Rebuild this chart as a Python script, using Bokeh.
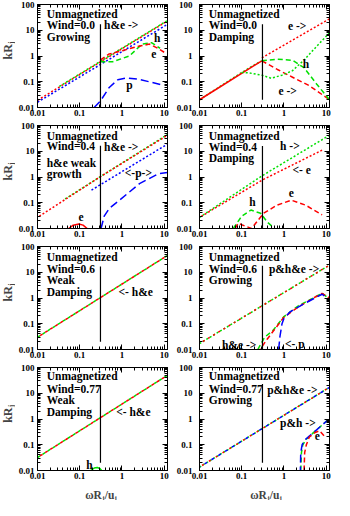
import math
from bokeh.plotting import figure
from bokeh.models import FixedTicker, LogAxis, Label, CustomJSTickFormatter, CustomLabelingPolicy
from bokeh.layouts import column, row
from bokeh.embed import file_html
from bokeh.resources import INLINE

FONT = "Liberation Serif"
RED, GREEN, BLUE = "#ff0000", "#00e000", "#0000ff"

X_TICKS = [0.01, 0.1, 1, 10]
Y_TICKS = [0.01, 0.1, 1, 10, 100]
X_MINOR = [m * d for d in [0.01, 0.1, 1, 10] for m in range(2, 10)]
Y_MINOR = [m * d for d in [0.01, 0.1, 1, 10] for m in range(2, 10)]

X_RANGE = (0.01, 12)
Y_RANGE = (0.01, 100)

V_X = 0.31                       # omega R_j / u_j of the vertical marker
V_BOT = [0.01, 0.02, 0.01, 0.01, 0.02, 0.01, 0.02, 0.02]
V_TOP = [17, 17, 16.5, 16, 16.6, 18, 21, 23]

TITLES = [
    ["Unmagnetized", "Wind=0.0", "Growing"],
    ["Unmagnetized", "Wind=0.0", "Damping"],
    ["Unmagnetized", "Wind=0.4", "h&e weak", "growth"],
    ["Unmagnetized", "Wind=0.4", "Damping"],
    ["Unmagnetized", "Wind=0.6", "Weak", "Damping"],
    ["Unmagnetized", "Wind=0.6", "Growing"],
    ["Unmagnetized", "Wind=0.77", "Weak", "Damping"],
    ["Unmagnetized", "Wind=0.77", "Growing"],
]
TITLE_Y = [
    [41, 15.3, 5.7],
    [41, 15.3, 5.7],
    [37.7, 16.5, 3.56, 1.35],
    [37.7, 14.5, 5.3],
    [40.6, 13.4, 5.0, 1.73],
    [40.6, 13.4, 5.0],
    [48.6, 14.6, 5.4, 1.93],
    [48.6, 14.6, 5.4],
]
TITLE_X = 0.0165

# ---- panel 1 : Wind=0.0 growing
p1_red_top_x = [0.01, 12];  p1_red_top_y = [0.019, 23]
p1_grn_top_x = [0.03, 12];  p1_grn_top_y = [0.06, 24]
p1_blu_top_x = [0.01, 12];  p1_blu_top_y = [0.016, 17]
p1_h_x = [0.31, 0.6, 1.5, 3, 5, 8];        p1_h_y = [0.6, 0.6, 1.0, 2.9, 3.3, 2.0]
p1_e_x = [0.31, 0.5, 1, 2.5, 4.5, 7, 10];  p1_e_y = [0.7, 1.2, 1.6, 2.4, 2.9, 2.0, 1.4]
p1_p_x = [0.22, 0.31, 0.5, 0.8, 1.3, 2.5, 5, 9]
p1_p_y = [0.01, 0.018, 0.06, 0.12, 0.14, 0.125, 0.095, 0.075]

# ---- panel 2 : Wind=0.0 damping
p2_red_lo_x = [0.01, 0.3];  p2_red_lo_y = [0.02, 0.65]
p2_red_dn_x = [0.3, 0.7, 1.6, 4, 12];  p2_red_dn_y = [0.65, 0.3, 0.15, 0.07, 0.02]
p2_red_up_x = [0.3, 12];  p2_red_up_y = [0.85, 28]
p2_grn_lo_x = [0.01, 0.1, 0.2, 0.3];  p2_grn_lo_y = [0.02, 0.23, 0.45, 0.65]
p2_grn_hump_x = [0.3, 0.7, 1.6, 3, 6, 12];  p2_grn_hump_y = [0.65, 0.75, 0.68, 0.35, 0.08, 0.02]
p2_grn_val_x = [0.1, 0.15, 0.3, 0.5, 0.9, 1.6, 3, 6, 12]
p2_grn_val_y = [0.23, 0.22, 0.18, 0.137, 0.18, 0.27, 0.7, 2.4, 8]

# ---- panel 3 : Wind=0.4 weak growth
p3_red_top_x = [0.01, 0.3, 12];  p3_red_top_y = [0.027, 1.0, 42]
p3_grn_top_x = [0.045, 0.3, 12];  p3_grn_top_y = [0.14, 1.0, 45]
p3_blu_top_x = [0.19, 12];  p3_blu_top_y = [0.31, 19]
p3_p_x = [0.32, 0.38, 0.5, 0.9, 2.6, 7.4, 12];  p3_p_y = [0.01, 0.03, 0.06, 0.13, 0.55, 1.35, 1.5]
p3_e_x = [0.055, 0.07, 0.095, 0.12, 0.15];  p3_e_y = [0.01, 0.0135, 0.015, 0.0135, 0.01]

# ---- panel 4 : Wind=0.4 damping
p4_grn_top_x = [0.01, 0.3, 12];  p4_grn_top_y = [0.027, 1.1, 42]
p4_red_top_x = [0.01, 0.3, 8];  p4_red_top_y = [0.027, 0.75, 11]
p4_h_x = [0.063, 0.1, 0.165, 0.28, 0.4, 0.6];  p4_h_y = [0.01, 0.03, 0.052, 0.039, 0.018, 0.01]
p4_e_x = [0.07, 0.082, 0.1, 0.17, 0.33, 0.68, 1.5, 3.3, 8]
p4_e_y = [0.01, 0.016, 0.014, 0.01, 0.039, 0.08, 0.126, 0.08, 0.034]

# ---- panel 5 : Wind=0.6 weak damping
p5_x = [0.01, 12];  p5_red_y = [0.03, 45];  p5_grn_y = [0.03, 45]

# ---- panel 6 : Wind=0.6 growing
p6_top_x = [0.01, 12];  p6_top_y = [0.017, 19]
p6_red_x = [0.27, 0.4, 0.55, 1, 2.2, 5, 8, 12];  p6_red_y = [0.01, 0.025, 0.05, 0.18, 0.45, 1.0, 1.5, 1.0]
p6_grn_x = [0.24, 0.35, 0.55, 1, 2.2, 5, 8, 12];  p6_grn_y = [0.01, 0.03, 0.055, 0.19, 0.5, 1.0, 1.55, 0.9]
p6_blu_x = [0.75, 0.8, 0.9, 1.0, 1.4, 3, 8, 12];  p6_blu_y = [0.01, 0.03, 0.1, 0.16, 0.29, 0.6, 1.4, 0.85]

# ---- panel 7 : Wind=0.77 weak damping
p7_x = [0.01, 12];  p7_red_y = [0.032, 50];  p7_grn_y = [0.032, 50]
p7_h_x = [0.18, 0.22, 0.26, 0.3, 0.33];  p7_h_y = [0.01, 0.0125, 0.013, 0.012, 0.01]

# ---- panel 8 : Wind=0.77 growing
p8_top_x = [0.01, 12];  p8_top_y = [0.0136, 17]
p8_blu_x = [2.45, 2.5, 2.7, 3.2, 5.4, 10, 12];  p8_blu_y = [0.01, 0.05, 0.1, 0.16, 0.33, 0.8, 0.95]
p8_grn_x = [2.5, 2.6, 2.8, 3.3, 5.4, 10, 12];  p8_grn_y = [0.01, 0.05, 0.1, 0.157, 0.33, 0.8, 0.95]
p8_e_x = [3.0, 3.1, 3.4, 4, 5.5, 7, 9];  p8_e_y = [0.01, 0.05, 0.1, 0.2, 0.3, 0.35, 0.22]

DOT, DASH, LDASH = "2 2", "5 3", "8 4"

# (x, y, colour, dash, dash offset)
PANEL_LINES = [
    [(p1_red_top_x, p1_red_top_y, RED, DOT, 0), (p1_grn_top_x, p1_grn_top_y, GREEN, DOT, 2),
     (p1_blu_top_x, p1_blu_top_y, BLUE, DOT, 0), (p1_h_x, p1_h_y, GREEN, DASH, 0),
     (p1_e_x, p1_e_y, RED, DASH, 0), (p1_p_x, p1_p_y, BLUE, LDASH, 0)],
    [(p2_grn_lo_x, p2_grn_lo_y, GREEN, DOT, 0), (p2_red_lo_x, p2_red_lo_y, RED, "solid", 0),
     (p2_red_dn_x, p2_red_dn_y, RED, DASH, 0), (p2_red_up_x, p2_red_up_y, RED, DOT, 0),
     (p2_grn_hump_x, p2_grn_hump_y, GREEN, DASH, 0), (p2_grn_val_x, p2_grn_val_y, GREEN, DOT, 0)],
    [(p3_grn_top_x, p3_grn_top_y, GREEN, DOT, 0), (p3_red_top_x, p3_red_top_y, RED, DOT, 2),
     (p3_blu_top_x, p3_blu_top_y, BLUE, DOT, 0), (p3_p_x, p3_p_y, BLUE, LDASH, 0),
     (p3_e_x, p3_e_y, RED, "solid", 0)],
    [(p4_grn_top_x, p4_grn_top_y, GREEN, DOT, 0), (p4_red_top_x, p4_red_top_y, RED, DOT, 2),
     (p4_h_x, p4_h_y, GREEN, DASH, 0), (p4_e_x, p4_e_y, RED, DASH, 0)],
    [(p5_x, p5_grn_y, GREEN, "3 3", 0), (p5_x, p5_red_y, RED, "3 3", 3)],
    [(p6_top_x, p6_top_y, GREEN, DOT, 0), (p6_top_x, p6_top_y, RED, "2 4", 2),
     (p6_grn_x, p6_grn_y, GREEN, DASH, 0), (p6_red_x, p6_red_y, RED, DASH, 4),
     (p6_blu_x, p6_blu_y, BLUE, LDASH, 0)],
    [(p7_x, p7_grn_y, GREEN, "3 3", 0), (p7_x, p7_red_y, RED, "3 3", 3),
     (p7_h_x, p7_h_y, GREEN, "solid", 0)],
    [(p8_top_x, p8_top_y, GREEN, DOT, 0), (p8_top_x, p8_top_y, BLUE, "3 5", 2),
     (p8_top_x, p8_top_y, RED, "2 6", 5),
     (p8_grn_x, p8_grn_y, GREEN, DASH, 0), (p8_blu_x, p8_blu_y, BLUE, LDASH, 4),
     (p8_e_x, p8_e_y, RED, DASH, 0)],
]

# annotation texts: (x, y, text, align)
PANEL_NOTES = [
    [(0.376, 15.7, "h&e ->", "left"), (6.8, 5.2, "h", "center"), (5.7, 1.17, "e", "center"),
     (1.5, 0.076, "p", "center")],
    [(1.25, 15, "e ->", "left"), (3.3, 0.48, "h", "center"), (0.74, 0.045, "e ->", "left")],
    [(0.376, 14.2, "h&e ->", "left"), (1.17, 1.43, "<-p->", "left"), (0.107, 0.029, "e", "center")],
    [(0.81, 16.5, "h ->", "left"), (1.6, 1.8, "<- e", "left"), (0.18, 0.11, "h", "center"),
     (1.5, 0.23, "e", "center")],
    [(0.83, 1.73, "<- h&e", "left")],
    [(0.44, 13.4, "p&h&e ->", "left"), (0.034, 0.0145, "h&e ->", "left"), (1.06, 0.0157, "<- p", "left")],
    [(0.73, 1.8, "<- h&e", "left"), (0.17, 0.017, "h", "center")],
    [(0.4, 13.3, "p&h&e ->", "left"), (0.81, 0.71, "p&h ->", "left"), (6.2, 0.21, "e", "center")],
]

fmt = CustomJSTickFormatter(code="return String(tick);")

# layout (pixels)
YLAB_W = 15
LEFT_B = [19, 27]
RIGHT_B = [4, 1]
FRAME_W = [134, 134]
Y_STANDOFF = [3, 7]
FRAME_H = 103
TOP_B = 4
BOT_B = [14, 14, 14, 13]
XLAB_H = 17


def style_axis(ax, ticks, minor, show):
    ax.ticker = FixedTicker(ticks=ticks, minor_ticks=minor)
    ax.major_tick_in = 5
    ax.major_tick_out = 0
    ax.minor_tick_in = 3
    ax.minor_tick_out = 0
    ax.axis_line_color = "black"
    ax.major_tick_line_color = "black"
    ax.minor_tick_line_color = "black"
    ax.formatter = fmt
    ax.major_label_text_font = FONT
    ax.major_label_text_font_style = "bold"
    ax.major_label_text_color = "black"
    if show:
        ax.major_label_text_font_size = "9px"
        ax.major_label_standoff = 2
    else:
        ax.major_label_text_font_size = "1px"
        ax.major_label_standoff = 0
        ax.major_label_policy = CustomLabelingPolicy(code="return [];")


def make_fig(idx):
    col = idx % 2
    r = idx // 2
    left = LEFT_B[col]
    right = RIGHT_B[col]
    fw = FRAME_W[col]
    p = figure(width=left + fw + right, height=TOP_B + FRAME_H + BOT_B[r],
               x_axis_type="log", y_axis_type="log",
               x_range=X_RANGE, y_range=Y_RANGE,
               output_backend="svg", toolbar_location=None,
               min_border_left=left, min_border_right=right,
               min_border_top=TOP_B, min_border_bottom=BOT_B[r])
    p.grid.visible = False
    p.outline_line_color = "black"
    p.background_fill_color = "white"
    p.border_fill_color = "white"
    style_axis(p.xaxis[0], X_TICKS, X_MINOR, True)
    style_axis(p.yaxis[0], Y_TICKS, Y_MINOR, True)
    p.yaxis[0].major_label_standoff = Y_STANDOFF[col]
    ta = LogAxis()
    style_axis(ta, X_TICKS, X_MINOR, False)
    p.add_layout(ta, "above")
    ra = LogAxis()
    style_axis(ra, Y_TICKS, Y_MINOR, False)
    p.add_layout(ra, "right")

    for xs, ys, c, d, off in PANEL_LINES[idx]:
        p.line(xs, ys, line_color=c, line_dash=d, line_dash_offset=off, line_width=1.5)

    p.line([V_X, V_X], [V_BOT[idx], V_TOP[idx]], line_color="black", line_width=1.2)

    for t, yv in zip(TITLES[idx], TITLE_Y[idx]):
        p.add_layout(Label(x=TITLE_X, y=yv, text=t, text_font=FONT, text_font_style="bold",
                           text_font_size="11.5px", text_baseline="middle", text_align="left",
                           text_color="black"))
    for xv, yv, t, al in PANEL_NOTES[idx]:
        p.add_layout(Label(x=xv, y=yv, text=t, text_font=FONT, text_font_style="bold",
                           text_font_size="11.5px", text_baseline="middle", text_align=al,
                           text_color="black"))
    return p


def blank_fig(w, h):
    f = figure(width=w, height=h, x_range=(0, w), y_range=(0, h),
               x_axis_location=None, y_axis_location=None,
               output_backend="svg", toolbar_location=None, min_border=0)
    f.grid.visible = False
    f.outline_line_color = None
    f.background_fill_color = "white"
    f.border_fill_color = "white"
    return f


def ylabel_fig(r):
    h = TOP_B + FRAME_H + BOT_B[r]
    f = blank_fig(YLAB_W, h)
    yc = h - (TOP_B + FRAME_H / 2)
    f.add_layout(Label(x=7.5, y=yc, text="kR", angle=math.pi / 2,
                       text_font=FONT, text_font_style="bold", text_font_size="12px",
                       text_align="center", text_baseline="middle"))
    f.add_layout(Label(x=10.7, y=yc + 10.5, text="j", angle=math.pi / 2,
                       text_font=FONT, text_font_style="bold", text_font_size="7.5px",
                       text_align="center", text_baseline="middle"))
    return f


def xlabel_fig(w, xc):
    f = blank_fig(w, XLAB_H)
    yb = 5.5
    pieces = [("ωR", 1.0, 0, "right", "11.5px"), ("j", 1.3, -2.5, "left", "7px"),
              ("/u", 3.8, 0, "left", "11.5px"), ("j", 13.6, -2.5, "left", "7px")]
    for t, dx, dy, al, fs in pieces:
        f.add_layout(Label(x=xc + dx, y=yb + dy, text=t,
                           text_font=FONT, text_font_style="bold", text_font_size=fs,
                           text_align=al, text_baseline="alphabetic"))
    return f


figs = [make_fig(i) for i in range(8)]
rows = []
for r in range(4):
    rows.append(row(ylabel_fig(r), figs[2 * r], figs[2 * r + 1]))
wl = YLAB_W + LEFT_B[0] + FRAME_W[0] + RIGHT_B[0]
wr = LEFT_B[1] + FRAME_W[1] + RIGHT_B[1]
rows.append(row(xlabel_fig(wl, YLAB_W + LEFT_B[0] + FRAME_W[0] / 2 - 0.6),
                xlabel_fig(wr, LEFT_B[1] + FRAME_W[1] / 2 - 0.6)))
layout = column(*rows)

open("out.html", "w").write(file_html(layout, INLINE))
